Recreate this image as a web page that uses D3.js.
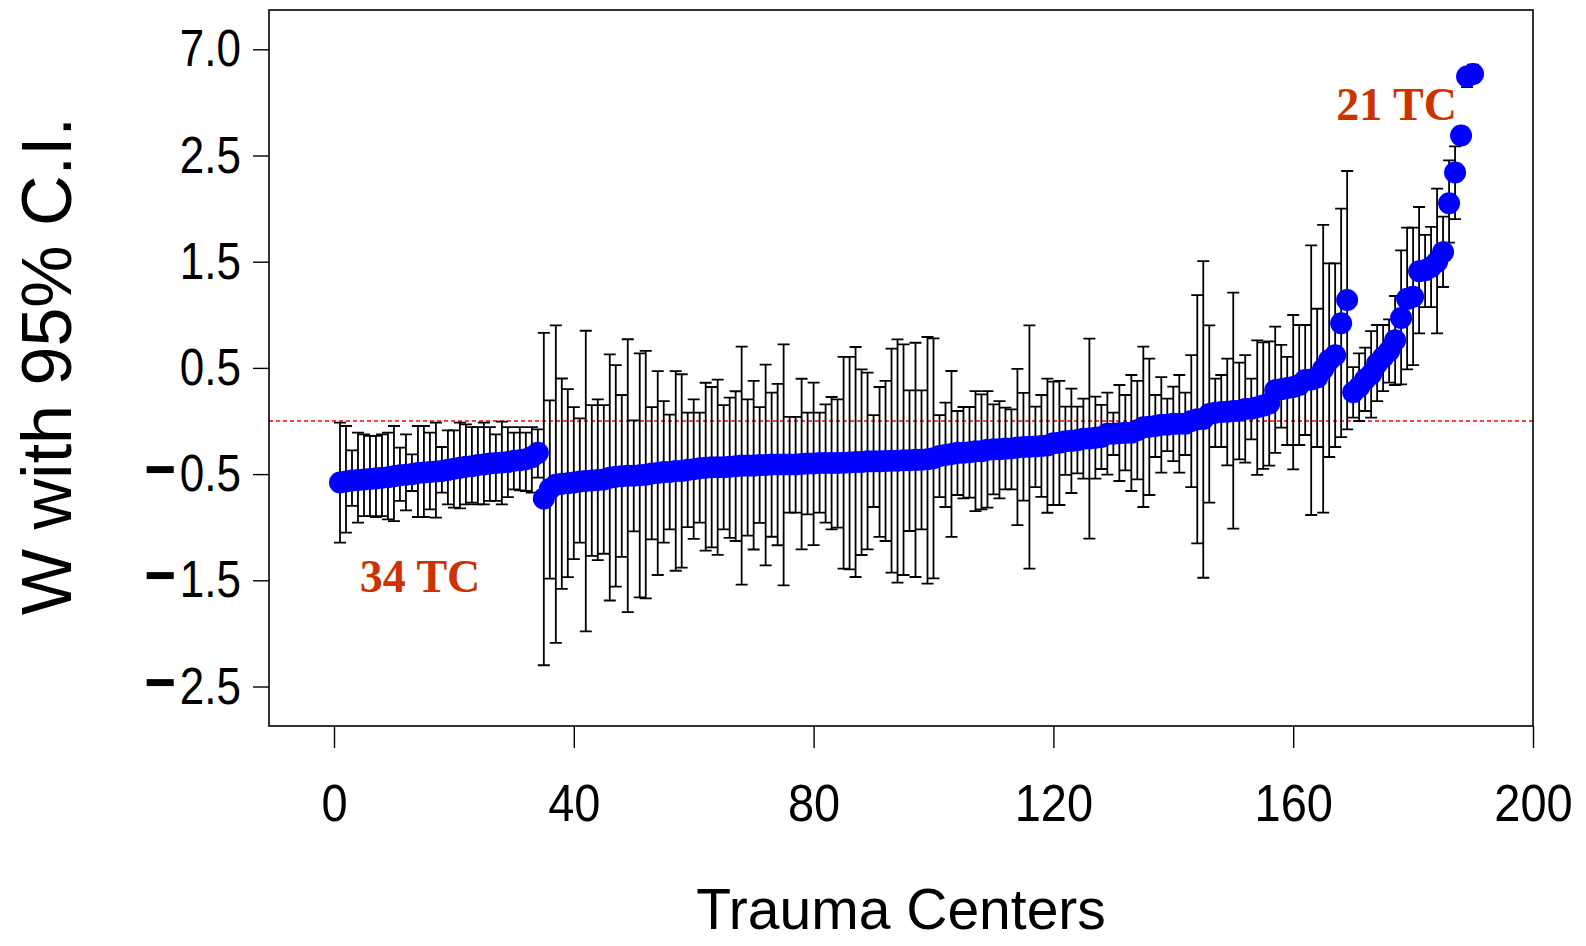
<!DOCTYPE html>
<html><head><meta charset="utf-8">
<script src="https://cdn.jsdelivr.net/npm/d3@7"></script>
<style>body{margin:0;background:#fff}svg{display:block}</style>
</head><body>
<svg id="chart" width="1586" height="946"></svg>
<script>
// ---- data: point estimate W and 95% C.I. for each trauma center (1..190), in sorted groups ----
const W = [
 -0.58,-0.57,-0.56,-0.555,-0.55,-0.545,-0.54,-0.535,-0.53,-0.52,
 -0.51,-0.505,-0.50,-0.49,-0.485,-0.48,-0.475,-0.47,-0.46,-0.45,
 -0.44,-0.43,-0.425,-0.415,-0.41,-0.40,-0.395,-0.39,-0.385,-0.375,
 -0.37,-0.36,-0.34,-0.30,
 -0.73,-0.64,-0.60,-0.59,-0.585,-0.58,-0.57,-0.565,-0.56,-0.555,
 -0.55,-0.535,-0.525,-0.52,-0.515,-0.515,-0.51,-0.505,-0.495,-0.49,
 -0.48,-0.48,-0.47,-0.47,-0.46,-0.455,-0.445,-0.44,-0.435,-0.435,
 -0.435,-0.43,-0.425,-0.42,-0.42,-0.42,-0.415,-0.415,-0.41,-0.41,
 -0.41,-0.41,-0.41,-0.405,-0.40,-0.40,-0.395,-0.395,-0.395,-0.395,
 -0.393,-0.39,-0.386,-0.385,-0.38,-0.38,-0.38,-0.377,-0.375,-0.375,
 -0.37,-0.37,-0.366,-0.365,-0.36,-0.35,-0.33,-0.32,-0.31,-0.30,
 -0.298,-0.295,-0.285,-0.285,-0.27,-0.267,-0.265,-0.26,-0.258,-0.25,
 -0.245,-0.243,-0.24,-0.235,-0.23,-0.21,-0.205,-0.19,-0.187,-0.18,
 -0.168,-0.165,-0.157,-0.15,-0.12,-0.12,-0.115,-0.11,-0.11,-0.086,
 -0.06,-0.055,-0.047,-0.036,-0.035,-0.027,-0.026,-0.025,0.0,0.017,
 0.02,0.066,0.077,0.085,0.088,0.095,0.097,0.113,0.115,0.13,
 0.145,0.165,0.29,0.30,0.31,0.32,0.34,0.385,0.39,0.41,
 0.49,0.573,0.62,0.92,1.14,
 0.27,0.32,0.39,0.44,0.54,0.60,0.66,0.76,0.97,1.15,
 1.17,1.41,1.42,1.45,1.50,1.59,2.05,2.34,3.35,5.85,
 5.95
];
const lower = [
 -1.146,-1.051,-0.800,-0.957,-0.895,-0.895,-0.904,-0.895,-0.926,-0.942,
 -0.753,-0.841,-0.659,-0.904,-0.904,-0.832,-0.910,-0.675,-0.785,-0.816,
 -0.822,-0.785,-0.769,-0.785,-0.785,-0.753,-0.753,-0.785,-0.716,-0.643,
 -0.653,-0.659,-0.675,-0.534,
 -2.30,-1.485,-2.09,-1.58,-1.47,-1.30,-1.145,-1.98,-1.27,-1.31,
 -1.25,-1.69,-1.56,-1.28,-1.80,-1.04,-1.66,-1.67,-1.114,-1.45,
 -1.145,-1.02,-1.41,-1.38,-1.00,-1.11,-0.957,-1.22,-1.19,-1.26,
 -1.02,-1.10,-1.13,-1.54,-1.08,-1.21,-0.96,-1.36,-1.09,-1.17,
 -1.547,-0.863,-0.863,-1.208,-0.879,-1.168,-0.863,-0.957,-1.02,-1.004,
 -1.39,-1.397,-1.469,-1.262,-1.208,-0.81,-1.092,-1.13,-1.428,-1.522,
 -1.45,-1.036,-1.469,-1.02,-1.532,-1.482,-0.716,-0.81,-1.092,-0.697,
 -0.728,-0.722,-0.848,-0.832,-0.816,-0.69,-0.728,-0.643,-0.643,-0.98,
 -0.75,-1.39,-0.622,-0.715,-0.864,-0.791,-0.791,-0.508,-0.678,-0.493,
 -0.543,-1.108,-0.543,-0.452,-0.505,-0.32,-0.565,-0.465,-0.659,-0.549,
 -0.81,-0.697,-0.339,-0.487,-0.283,-0.377,-0.487,-0.32,-0.622,-1.152,
 -1.476,-0.769,-0.245,-0.245,-0.417,-1.014,-0.361,-0.392,-0.173,-0.508,
 -0.45,-0.42,-0.30,-0.063,-0.226,-0.455,-0.226,-0.132,-0.885,-0.245,
 -0.863,-0.339,-0.245,-0.151,-0.079,
 0.032,0.0,0.094,0.032,0.188,0.282,0.361,0.339,0.345,0.486,
 0.527,0.825,1.073,1.073,0.825,1.262,1.68,1.90,3.1,5.4,
 5.6
];
const upper = [
 -0.016,-0.047,-0.276,-0.110,-0.126,-0.141,-0.141,-0.126,-0.110,-0.047,
 -0.251,-0.126,-0.314,-0.047,-0.047,-0.110,-0.016,-0.245,-0.088,-0.088,
 -0.016,-0.031,-0.057,-0.057,-0.016,-0.057,-0.126,-0.005,-0.057,-0.110,
 -0.057,-0.110,-0.057,-0.079,
 0.83,0.195,0.90,0.40,0.30,0.13,0.025,0.85,0.15,0.204,
 0.15,0.628,0.527,0.245,0.77,0.006,0.637,0.66,0.13,0.47,
 0.188,0.06,0.47,0.44,0.078,0.204,0.078,0.36,0.32,0.39,
 0.15,0.22,0.28,0.70,0.204,0.377,0.13,0.53,0.267,0.35,
 0.722,0.038,0.038,0.398,0.078,0.361,0.078,0.157,0.226,0.204,
 0.603,0.603,0.697,0.487,0.455,0.056,0.32,0.377,0.681,0.769,
 0.722,0.289,0.737,0.289,0.791,0.778,0.056,0.173,0.471,0.094,
 0.132,0.132,0.282,0.251,0.282,0.157,0.188,0.126,0.11,0.49,
 0.265,0.90,0.135,0.245,0.399,0.37,0.377,0.135,0.304,0.135,
 0.21,0.775,0.229,0.151,0.267,0.079,0.339,0.245,0.433,0.377,
 0.70,0.587,0.245,0.414,0.21,0.323,0.433,0.267,0.621,1.186,
 1.506,0.901,0.399,0.433,0.587,1.208,0.549,0.621,0.399,0.76,
 0.74,0.75,0.888,0.716,0.603,0.998,0.904,0.904,1.654,1.057,
 1.846,1.485,1.485,1.999,2.354,
 0.508,0.637,0.69,0.847,0.904,0.904,0.957,1.177,1.607,1.82,
 1.82,2.015,1.752,1.827,2.188,1.924,2.455,2.89,3.6,6.2,
 6.35
];
const xTickValues = [0, 40, 80, 120, 160, 200];
const yTickValues = [-2.5, -1.5, -0.5, 0.5, 1.5, 2.5, 7.0];
const yTickLabels = ["\u22122.5", "\u22121.5", "\u22120.5", "0.5", "1.5", "2.5", "7.0"];
const annotLabels = ["34 TC", "21 TC"];
const xTitle = "Trauma Centers";
const yTitle = "W with 95% C.I.";
const refValue = 0;

// ---- layout ----
const svg = d3.select("#chart");
const frame = {left: 269, right: 1533, top: 10, bottom: 726};
const SANS = "'Liberation Sans', Arial, Helvetica, sans-serif";
const SERIF = "'Liberation Serif', 'Times New Roman', serif";

const rows = W.map((w, i) => ({idx: i + 1, w, lo: lower[i], hi: upper[i]}));

const x = d3.scaleLinear().domain([0, 200]).range([334, 1533]);
// broken (piecewise) y axis: -2.5..2.5 linear, 2.5..7.0 compressed
const y = d3.scaleLinear().domain([-2.5, 2.5, 7.0]).range([686.5, 155.5, 49.3]);

// reference line
svg.append("line")
  .attr("x1", frame.left).attr("x2", frame.right)
  .attr("y1", y(refValue)).attr("y2", y(refValue))
  .attr("stroke", "#ff0000").attr("stroke-width", 1.3)
  .attr("stroke-dasharray", "4,3");

// error bars
const eb = svg.append("g").attr("stroke", "#000").attr("stroke-width", 1.8).attr("fill", "none");
const capW = 6;
eb.selectAll("path").data(rows).join("path")
  .attr("d", d => {
    const cx = x(d.idx), y1 = y(d.lo), y2 = y(d.hi);
    return `M${cx},${y1}V${y2}M${cx - capW},${y2}H${cx + capW}M${cx - capW},${y1}H${cx + capW}`;
  });

// points
svg.append("g").selectAll("circle").data(rows).join("circle")
  .attr("cx", d => x(d.idx)).attr("cy", d => y(d.w)).attr("r", 11)
  .attr("fill", "#0000ff");

// frame
svg.append("rect")
  .attr("x", frame.left).attr("y", frame.top)
  .attr("width", frame.right - frame.left).attr("height", frame.bottom - frame.top)
  .attr("fill", "none").attr("stroke", "#000").attr("stroke-width", 1.6);

// x axis
const gx = svg.append("g").attr("transform", `translate(0,${frame.bottom})`)
  .call(d3.axisBottom(x).tickValues(xTickValues).tickFormat(d3.format("d"))
    .tickSize(22).tickSizeOuter(0).tickPadding(31));
gx.select(".domain").remove();
gx.selectAll(".tick line").attr("stroke", "#000").attr("stroke-width", 1.4);
gx.selectAll(".tick text")
  .attr("font-family", SANS).attr("font-size", 47).attr("fill", "#000")
  .attr("transform", "scale(1,1.1)");

// y axis
const gy = svg.append("g").attr("transform", `translate(${frame.left},0)`)
  .call(d3.axisLeft(y).tickValues(yTickValues)
    .tickFormat((d, i) => yTickLabels[i])
    .tickSize(16).tickSizeOuter(0).tickPadding(12));
gy.select(".domain").remove();
gy.selectAll(".tick line").attr("stroke", "#000").attr("stroke-width", 1.4);
gy.selectAll(".tick text")
  .attr("font-family", SANS).attr("font-size", 44).attr("fill", "#000")
  .attr("transform", "scale(1,1.18)")
  .each(function() {
    const t = d3.select(this);
    const s = t.text();
    if (s.startsWith("\u2212")) {
      t.text(null);
      t.append("tspan").attr("font-weight", "bold").attr("font-size", 54).text("\u2212");
      t.append("tspan").attr("dx", 4).text(s.slice(1));
    }
  });

// axis titles
svg.append("text")
  .attr("x", (frame.left + frame.right) / 2).attr("y", 929)
  .attr("text-anchor", "middle").attr("font-family", SANS).attr("font-size", 57)
  .attr("fill", "#000").text(xTitle);
svg.append("text")
  .attr("transform", `translate(71,${(frame.top + frame.bottom) / 2 - 2}) rotate(-90)`)
  .attr("text-anchor", "middle").attr("font-family", SANS).attr("font-size", 70)
  .attr("fill", "#000").text(yTitle);

// group annotations
svg.append("text")
  .attr("x", x(4.3)).attr("y", y(-1.61))
  .attr("font-family", SERIF).attr("font-weight", "bold").attr("font-size", 46)
  .attr("fill", "#cc3300").text(annotLabels[0]);
svg.append("text")
  .attr("x", x(167.2)).attr("y", 120)
  .attr("font-family", SERIF).attr("font-weight", "bold").attr("font-size", 46)
  .attr("fill", "#cc3300").text(annotLabels[1]);
</script>
</body></html>
